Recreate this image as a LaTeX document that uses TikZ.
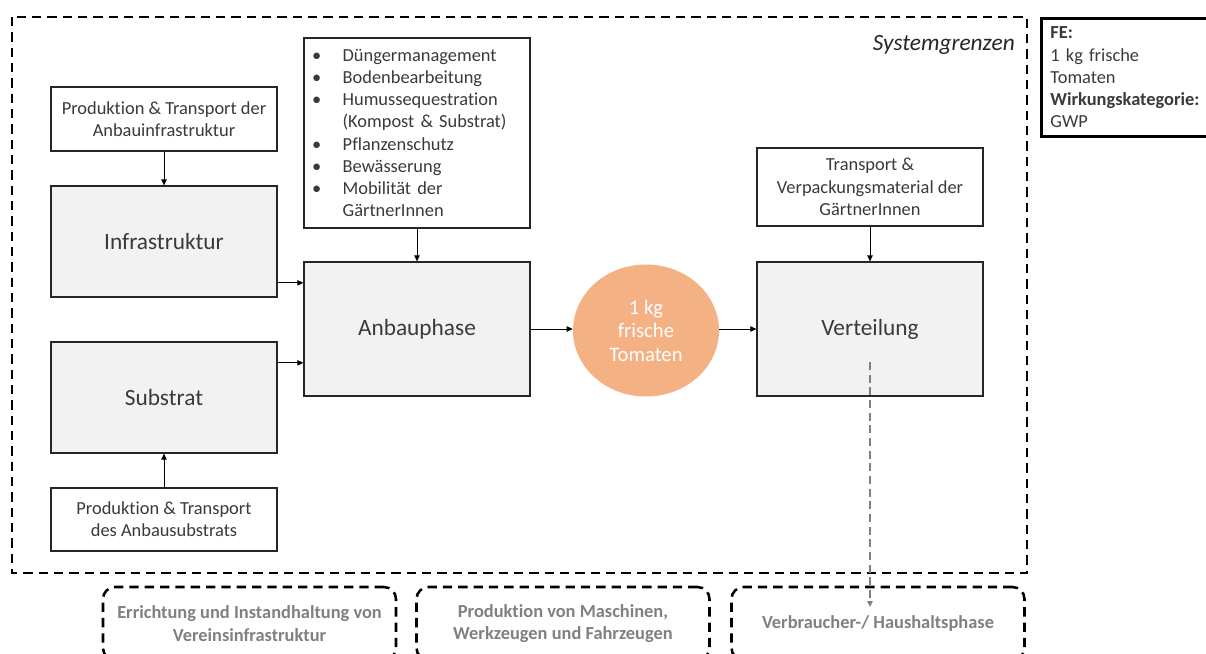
\documentclass[tikz,border=0pt]{standalone}
\usepackage{fontspec}
\setmainfont{Carlito}[Ligatures=NoCommon]
\usepackage{xcolor}
\usetikzlibrary{arrows.meta, shapes.geometric}
\definecolor{kastengrau}{HTML}{F2F2F2}
\definecolor{tomate}{HTML}{F4B183}
\definecolor{textgrau}{HTML}{808080}
\definecolor{schrift}{HTML}{3A3A3A}

\begin{document}
\begin{tikzpicture}[x=0.75pt, y=-0.75pt]
        \tikzset{boxA/.style={draw=black!85, line width=0.9pt, fill=white, text=schrift, align=center, minimum width=169.5pt, inner sep=0pt, font=\fontsize{13.8}{16.7}\selectfont}}
        \tikzset{boxB/.style={boxA, fill=kastengrau, minimum height=83.25pt, font=\fontsize{17.5}{21}\selectfont}}
        \tikzset{boxC/.style={draw=black, line width=1.9pt, dash pattern=on 7pt off 4.5pt, rounded corners=9pt, minimum width=219.75pt, minimum height=54.75pt, text=textgrau, align=center, font=\bfseries\fontsize{13.8}{16.7}\selectfont}}
        \tikzset{arrowA/.style={-{Triangle[length=4.5pt,width=4pt]}, line width=0.75pt, black}}
        \tikzset{arrowB/.style={-{Triangle[length=4.5pt,width=4pt]}, line width=1.1pt, textgrau, dash pattern=on 6pt off 3.5pt}}

        \useasboundingbox (0,0) rectangle (1206,653);
        \clip (0,0) rectangle (1206,653);

        \draw[line width=1.9pt, dash pattern=on 7pt off 4.5pt] (12,17) rectangle (1027,573);
        \node[anchor=east, inner sep=0pt, text=black!85, font=\itshape\fontsize{17.5}{21}\selectfont] (grenzen) at (1015,45) {Systemgrenzen};

        \node[draw=black, line width=2.2pt, anchor=north west, text width=120pt, inner xsep=6.75pt, minimum height=88.5pt, align=left, text=schrift, font=\fontsize{13.8}{16.7}\selectfont] (fe) at (1040,17) {\textbf{FE:}\\1 kg frische\\Tomaten\\\textbf{Wirkungskategorie:}\\GWP};

        \node[boxA, minimum height=48pt] (prodInfra) at (164,119) {Produktion \& Transport der\\Anbauinfrastruktur};
        \node[boxB] (infra) at (164,241.5) {Infrastruktur};
        \node[boxB] (substrat) at (164,397.5) {Substrat};
        \node[boxA, minimum height=47.25pt] (prodSub) at (164,519.5) {Produktion \& Transport\\des Anbausubstrats};

        \node[boxA, minimum height=142.5pt, text width=157.5pt, inner xsep=6pt, align=left] (liste) at (417,133) {%
            \makebox[23pt][l]{\textbullet}Düngermanagement\\
            \makebox[23pt][l]{\textbullet}Bodenbearbeitung\\
            \makebox[23pt][l]{\textbullet}Humussequestration\\
            \hspace*{23pt}(Kompost \& Substrat)\\
            \makebox[23pt][l]{\textbullet}Pflanzenschutz\\
            \makebox[23pt][l]{\textbullet}Bewässerung\\
            \makebox[23pt][l]{\textbullet}Mobilität der\\
            \hspace*{23pt}GärtnerInnen};
        \node[boxB, minimum height=100.5pt] (anbau) at (417,329) {Anbauphase};

        \node[ellipse, fill=tomate, minimum width=109.5pt, minimum height=99pt, inner sep=0pt, text=white, align=center, font=\fontsize{15.5}{17.6}\selectfont] (tomaten) at (646,330.5) {1 kg\\frische\\Tomaten};

        \node[boxA, minimum height=58.5pt] (transp) at (870,187) {Transport \&\\Verpackungsmaterial der\\GärtnerInnen};
        \node[boxB, minimum height=100.5pt] (verteil) at (870,329) {Verteilung};

        \node[boxC] (errichtung) at (249.5,623.5) {Errichtung und Instandhaltung von\\Vereinsinfrastruktur};
        \node[boxC] (maschinen) at (563,623.5) {Produktion von Maschinen,\\Werkzeugen und Fahrzeugen};
        \node[boxC] (verbraucher) at (878,623.5) {Verbraucher-/ Haushaltsphase};

        \coordinate (infraOut) at ([yshift=-31pt]infra.east);
        \coordinate (substratOut) at ([yshift=26pt]substrat.east);
        \coordinate (verteilOut) at ([yshift=-24.75pt]verteil.center);
        \coordinate (verbrauchEnd) at (870,607);

        \draw[arrowA] (prodInfra) -- (infra);
        \draw[arrowA] (prodSub) -- (substrat);
        \draw[arrowA] (infraOut) -- (infraOut -| anbau.west);
        \draw[arrowA] (substratOut) -- (substratOut -| anbau.west);
        \draw[arrowA] (liste) -- (anbau);
        \draw[arrowA] (anbau.east) -- (anbau.east -| tomaten.west);
        \draw[arrowA] (tomaten.east |- verteil.west) -- (verteil.west);
        \draw[arrowA] (transp) -- (verteil);
        \draw[arrowB] (verteilOut) -- (verbrauchEnd);

    \end{tikzpicture}
\end{document}
